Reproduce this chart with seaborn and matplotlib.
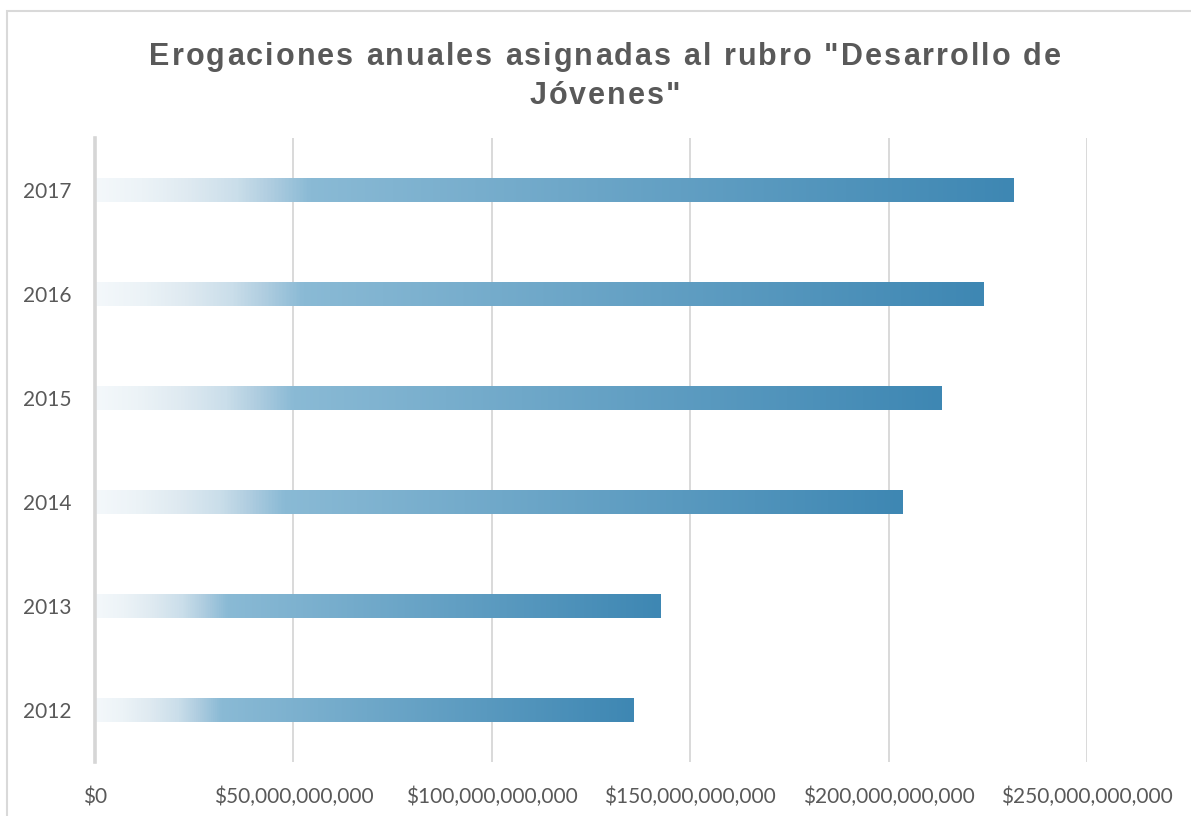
import numpy as np
import pandas as pd
import matplotlib
matplotlib.use("Agg")
import matplotlib.pyplot as plt
import matplotlib.ticker as mticker
from matplotlib.colors import LinearSegmentedColormap
from matplotlib.patches import Rectangle
from matplotlib.font_manager import FontProperties, findfont
from matplotlib.ft2font import FT2Font
import seaborn as sns

# Annual spending on "Desarrollo de Jóvenes" (pesos)
years = ["2012", "2013", "2014", "2015", "2016", "2017"]
spending = [135.8e9, 142.4e9, 203.4e9, 213.4e9, 224.0e9, 231.6e9]
x_ticks = [0, 50e9, 100e9, 150e9, 200e9, 250e9]
title_lines = ['Erogaciones anuales asignadas al rubro "Desarrollo de', 'Jóvenes"']

df = pd.DataFrame({"year": years, "spending": spending})

sns.set_theme(style="white")
plt.rcParams["font.family"] = ["Lato", "DejaVu Sans"]

W, H = 1191, 816
DPI = 100
fig = plt.figure(figsize=(W / DPI, H / DPI), dpi=DPI)
ax = fig.add_axes([95 / W, 1 - 762 / H, (1087 - 95) / W, (762 - 138) / H])

sns.barplot(data=df, x="spending", y="year", order=years[::-1],
            orient="h", width=0.24, color="#3E87B3", ax=ax)

# left-to-right fade used to fill every bar
fade = LinearSegmentedColormap.from_list("fade", [
    (0.00, "#F4F8FB"), (0.05, "#ECF3F7"), (0.10, "#DFEAF1"),
    (0.153, "#CADEEA"), (0.19, "#AFCDE0"), (0.233, "#8ABAD5"),
    (1.00, "#3E87B3")])
ramp = fade(np.linspace(0, 1, 512))[None, :, :]

for bar in list(ax.patches):
    x0, y0 = bar.get_x(), bar.get_y()
    w, h = bar.get_width(), bar.get_height()
    img = ax.imshow(ramp, extent=(x0, x0 + w, y0 + h, y0), aspect="auto",
                    interpolation="bilinear", zorder=2)
    img.set_clip_path(bar)
    bar.set_facecolor("none")
    bar.set_edgecolor("none")

ax.set_xlim(0, 250e9)
ax.set_ylim(5.5, -0.5)
ax.set_xticks(x_ticks)
ax.xaxis.set_major_formatter(mticker.FuncFormatter(lambda v, _: f"${v:,.0f}"))
ax.set_xlabel("")
ax.set_ylabel("")

ax.grid(axis="x", color="#D9D9D9", linewidth=1.4, zorder=0)
ax.set_axisbelow(True)
for side in ("top", "right", "bottom"):
    ax.spines[side].set_visible(False)
ax.spines["left"].set_color("#D6D6D6")
ax.spines["left"].set_linewidth(2.6)
ax.spines["left"].set_zorder(3)

ax.tick_params(axis="both", length=0, labelsize=15, labelcolor="#595959")
ax.tick_params(axis="y", pad=17)
ax.tick_params(axis="x", pad=18)

# letter-spaced, two-line bold title
title_prop = FontProperties(family="Liberation Sans", weight="bold", size=22)
face = FT2Font(findfont(title_prop))
face.set_size(22, DPI)
tracking = 2.1  # extra pixels between letters


def advance(ch):
    return face.load_char(ord(ch)).linearHoriAdvance / 65536


for text, base_px in zip(title_lines, (65, 103.5)):
    widths = [advance(c) for c in text]
    total = sum(widths) + tracking * (len(text) - 1)
    x = 605 - total / 2
    for c, wpx in zip(text, widths):
        fig.text(x / W, 1 - base_px / H, c, ha="left", va="baseline",
                 fontproperties=title_prop, color="#595959")
        x += wpx + tracking

# chart frame
fig.add_artist(Rectangle((7 / W, -0.1), 1.2, (H - 10.5) / H + 0.1,
                         transform=fig.transFigure, fill=False,
                         edgecolor="#D9D9D9", linewidth=1.5))

fig.savefig("out.png", dpi=DPI, facecolor="white")
